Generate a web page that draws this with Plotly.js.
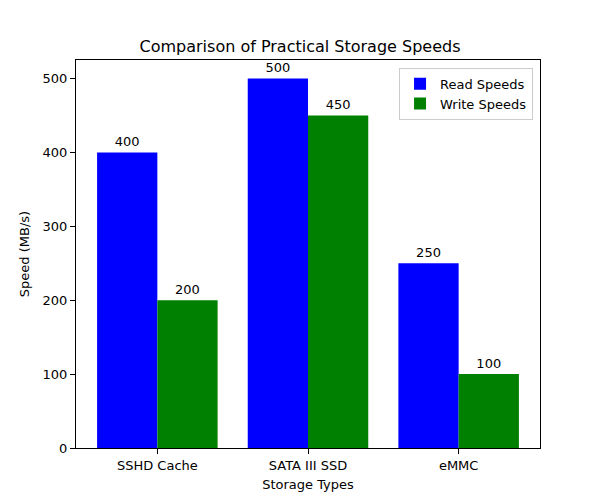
<!DOCTYPE html>
<html>
<head>
<meta charset="utf-8">
<script src="https://cdn.plot.ly/plotly-3.0.1.min.js"></script>
<style>body{margin:0;background:#fff;} #chart{width:600px;height:503px;}</style>
</head>
<body>
<div id="chart"></div>
<script>
// donnees
var types = ['SSHD Cache', 'SATA III SSD', 'eMMC'];
var lecture = [400, 500, 250];
var ecriture = [200, 450, 100];

var police = { family: 'DejaVu Sans', size: 13, color: '#000' };

var traceLecture = {
    x: types,
    y: lecture,
    name: 'Read Speeds',
    type: 'bar',
    marker: { color: '#0000ff' },
    text: lecture.map(String),
    textposition: 'outside',
    textfont: police,
    cliponaxis: false,
    hoverinfo: 'none'
};

var traceEcriture = {
    x: types,
    y: ecriture,
    name: 'Write Speeds',
    type: 'bar',
    marker: { color: '#008000' },
    text: ecriture.map(String),
    textposition: 'outside',
    textfont: police,
    cliponaxis: false,
    hoverinfo: 'none'
};

var layout = {
    width: 600,
    height: 503,
    font: police,
    title: {
        text: 'Comparison of Practical Storage Speeds',
        font: { family: 'DejaVu Sans', size: 16, color: '#000' },
        x: 0.5, xanchor: 'center',
        y: 1 - 46 / 503, yanchor: 'middle'
    },
    barmode: 'group',
    bargap: 0.2,
    bargroupgap: 0,
    xaxis: {
        title: { text: 'Storage Types', font: police, standoff: 8 },
        range: [-0.54, 2.54],
        showline: true, linecolor: '#000', linewidth: 1, mirror: true,
        ticks: 'outside', ticklen: 5, tickcolor: '#000',
        showgrid: false, zeroline: false
    },
    yaxis: {
        title: { text: 'Speed (MB/s)', font: police, standoff: 10 },
        range: [0, 525],
        dtick: 100,
        showline: true, linecolor: '#000', linewidth: 1, mirror: true,
        ticks: 'outside', ticklen: 5, tickcolor: '#000',
        showgrid: false, zeroline: false
    },
    legend: {
        x: 0.985, xanchor: 'right',
        y: 0.98, yanchor: 'top',
        bgcolor: 'rgba(255,255,255,0.8)',
        bordercolor: '#cccccc', borderwidth: 1,
        font: police
    },
    plot_bgcolor: '#fff',
    paper_bgcolor: '#fff',
    margin: { t: 60, b: 55, l: 76, r: 60 }
};

Plotly.newPlot('chart', [traceLecture, traceEcriture], layout, { displayModeBar: false, staticPlot: true });
</script>
</body>
</html>
